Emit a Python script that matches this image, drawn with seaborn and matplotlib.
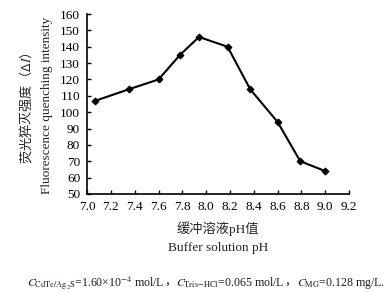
import numpy as np
import pandas as pd
import matplotlib
matplotlib.use('Agg')
import matplotlib.pyplot as plt
from matplotlib.transforms import offset_copy
import seaborn as sns

# data
ph = [7.07, 7.35, 7.60, 7.78, 7.94, 8.18, 8.37, 8.60, 8.79, 9.00]
quench = [107, 114, 120, 135, 146, 140, 114, 94, 70, 64]
x_ticks = [7.0, 7.2, 7.4, 7.6, 7.8, 8.0, 8.2, 8.4, 8.6, 8.8, 9.0, 9.2]
y_ticks = list(range(50, 161, 10))

sns.set_style('ticks')
plt.rcParams['font.family'] = ['Liberation Serif', 'Noto Sans CJK SC']
plt.rcParams['mathtext.fontset'] = 'stix'

df = pd.DataFrame({'pH': ph, 'dI': quench})

fig = plt.figure(figsize=(3.87, 2.93), dpi=100)
ax = fig.add_axes([0.225, 0.338, 0.677, 0.614])

sns.lineplot(data=df, x='pH', y='dI', ax=ax, color='black', lw=1.5,
             marker='D', markersize=3.5, markeredgecolor='black')

ax.set_xlim(7.0, 9.2)
ax.set_ylim(50, 160)
ax.set_xticks(x_ticks)
ax.set_yticks(y_ticks)
ax.set_xticklabels([f'{t:.1f}' for t in x_ticks])
ax.tick_params(direction='in', length=3, width=1, labelsize=9.5,
               colors='black')
ax.tick_params(axis='x', pad=5)
ax.tick_params(axis='y', pad=5)
for s in ['top', 'right']:
    ax.spines[s].set_visible(False)
for s in ['left', 'bottom']:
    ax.spines[s].set_linewidth(1.2)
    ax.spines[s].set_color('black')
ax.set_xlabel('')
ax.set_ylabel('')

fig.text(0.067, 0.63, '荧光猝灭强度（Δ$\\it{I}$）', rotation=90,
         ha='center', va='center', fontsize=9.5,
         family=['Noto Sans CJK SC', 'DejaVu Sans'])
fig.text(0.121, 0.64, 'Fluorescence quenching intensity', rotation=90,
         ha='center', va='center', fontsize=9.5)
fig.text(0.563, 0.218, '缓冲溶液pH值', ha='center', va='center', fontsize=9.5)
fig.text(0.563, 0.153, 'Buffer solution pH', ha='center', va='center', fontsize=9.5)

# footnote, built piece by piece so the CJK comma is not lost in mathtext
pieces = [
    '$C_{\\mathrm{CdTe/Ag_2S}}$=1.60×10$^{-4}$ mol/L',
    '，',
    '$C_{\\mathrm{Tris\\!-\\!HCl}}$=0.065 mol/L',
    '，',
    '$C_{\\mathrm{MG}}$=0.128 mg/L.',
]
renderer = fig.canvas.get_renderer()
trans = fig.transFigure
for p in pieces:
    t = fig.text(0.07, 0.034, p, ha='left', va='center', fontsize=8.6,
                 color='#1c1c3a', transform=trans)
    w = t.get_window_extent(renderer=renderer).width
    trans = offset_copy(trans, fig=fig, x=w, y=0, units='dots')

fig.savefig('out.png', dpi=100)
